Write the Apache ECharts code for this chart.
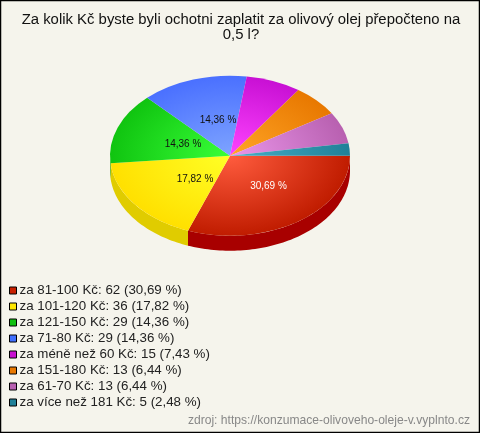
<!DOCTYPE html>
<html><head><meta charset="utf-8">
<style>html,body{margin:0;padding:0;background:#f5f4ec}#c{width:480px;height:433px}</style>
<script src="https://cdn.jsdelivr.net/npm/echarts@6/dist/echarts.min.js"></script>
</head><body><div id="c"></div>
<script>
const titleText = "Za kolik Kč byste byli ochotni zaplatit za olivový olej přepočteno na\n0,5 l?";
const sourceText = "zdroj: https://konzumace-olivoveho-oleje-v.vyplnto.cz";
const categories = ["za 81-100 Kč","za 101-120 Kč","za 121-150 Kč","za 71-80 Kč","za méně než 60 Kč","za 151-180 Kč","za 61-70 Kč","za více než 181 Kč"];
const counts = [62,36,29,29,15,13,13,5];
const shares = ["30,69","17,82","14,36","14,36","7,43","6,44","6,44","2,48"];
const innerColors = ["#ff5c3e","#ffff26","#38ff38","#7ea4ff","#ff44ff","#ffa526","#ea96ea","#48b0c8"];
const outerColors = ["#c01c00","#ffe000","#10c410","#4a70ff","#c810d4","#e87800","#b860b0","#208098"];
const sideColors = ["#a80000","#e0cc00","#0c9c0c","#3858c8","#a00ca8","#b86000","#904888","#186478"];
const legendColors = ["#c82000","#ffe800","#10c010","#4070ff","#c810d0","#e87800","#b860b0","#208098"];
const labelColors = ["#fff","#111","#111","#111"];
const labelOffsets = [[38.5,31],[-35,23.5],[-47,-11.5],[-12,-35]];

const cx=230, cy=155.7, rx=120, ry=80, depth=15;
const total = counts.reduce((a,b)=>a+b,0);
const starts=[]; counts.reduce((a,v,i)=>{starts[i]=a;return a+v;},0);
const ang = v => v/total*Math.PI*2;

function sideSegment(a0,a1){
  const s=Math.max(a0,0), e=Math.min(a1,Math.PI);
  if(e<=s) return null;
  const pts=[], n=Math.max(2,Math.ceil((e-s)*40));
  for(let i=0;i<=n;i++){const t=s+(e-s)*i/n;pts.push([cx+rx*Math.cos(t),cy+ry*Math.sin(t)]);}
  for(let i=n;i>=0;i--){const t=s+(e-s)*i/n;pts.push([cx+rx*Math.cos(t),cy+ry*Math.sin(t)+depth]);}
  return pts;
}
const series = categories.map((c,i)=>({
  type:'custom', name:`${c}: ${counts[i]} (${shares[i]} %)`,
  coordinateSystem:'none', silent:true, animation:false,
  itemStyle:{color:legendColors[i]},
  data:[[counts[i]]],
  renderItem:(params,api)=>{
    const v=api.value(0), a0=ang(starts[i]), a1=a0+ang(v);
    const children=[];
    const side=sideSegment(a0,a1);
    if(side) children.push({type:'polygon',shape:{points:side},style:{fill:sideColors[i]}});
    children.push({type:'sector',x:cx,y:cy,scaleY:ry/rx,
      shape:{cx:0,cy:0,r:rx,r0:0,startAngle:a0,endAngle:a1,clockwise:true},
      style:{fill:{type:'radial',x:0,y:0,r:rx,global:true,
        colorStops:[{offset:0,color:innerColors[i]},{offset:1,color:outerColors[i]}]}}});
    if(labelOffsets[i]) children.push({type:'text',z2:10,x:cx+labelOffsets[i][0],y:cy+labelOffsets[i][1],
      style:{text:`${shares[i]} %`,fill:labelColors[i],font:'10px "Liberation Sans"',align:'center',verticalAlign:'middle'}});
    return {type:'group',children};
  }
}));
const chart=echarts.init(document.getElementById('c'),null,{renderer:'canvas'});
chart.setOption({
  animation:false,
  backgroundColor:'#f5f4ec',
  title:{text:titleText,left:241,top:12,padding:0,textAlign:'center',
    textStyle:{fontFamily:'Liberation Sans',fontSize:14.9,fontWeight:'normal',color:'#111',lineHeight:15}},
  legend:{orient:'vertical',left:9,top:284,padding:0,itemWidth:7,itemHeight:7,itemGap:3,icon:'rect',
    selectedMode:false,
    itemStyle:{borderColor:'#000',borderWidth:1},
    textStyle:{fontFamily:'Liberation Sans',fontSize:13.33,color:'#222',padding:[0,0,0,-2],lineHeight:13,height:13},
    data:series.map(s=>s.name)},
  graphic:[
    {type:'rect',silent:true,z:100,shape:{x:0.5,y:0.5,width:479,height:432},style:{fill:'none',stroke:'#000',lineWidth:1.5}},
    {type:'text',silent:true,z:100,right:10,top:415,style:{text:sourceText,fill:'#888',font:'12.1px "Liberation Sans"'}}
  ],
  series
});
</script></body></html>
